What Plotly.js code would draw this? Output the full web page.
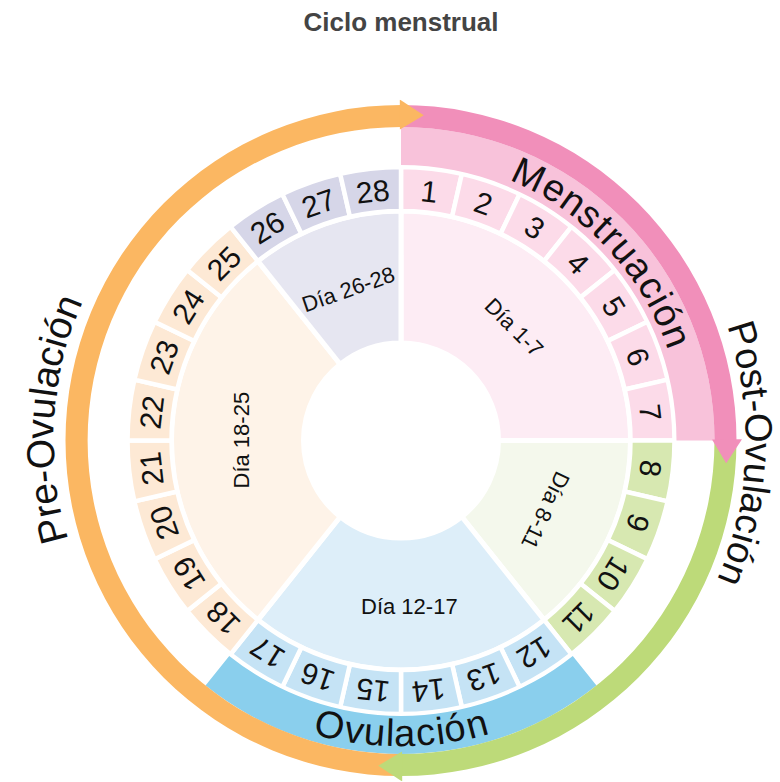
<!DOCTYPE html>
<html>
<head>
<meta charset="utf-8">
<script src="https://cdn.plot.ly/plotly-3.0.1.min.js"></script>
<style>html,body{margin:0;padding:0;background:#fff;}</style>
</head>
<body>
<div id="chart" style="width:780px;height:782px;"></div>
<script>
// ---------------- DATA ----------------
const chartTitle = 'Ciclo menstrual';
const cycleLength = 28;
const dayNumbers = [1,2,3,4,5,6,7,8,9,10,11,12,13,14,15,16,17,18,19,20,21,22,23,24,25,26,27,28];

const phaseLabels   = ['Día 1-7', 'Día 8-11', 'Día 12-17', 'Día 18-25', 'Día 26-28'];
const phaseFirstDay = [1, 8, 12, 18, 26];
const phaseLastDay  = [7, 11, 17, 25, 28];

const bandLabels   = ['Menstruación', 'Ovulación'];
const bandFirstDay = [1, 12];
const bandLastDay  = [7, 17];

const arcLabels   = ['', 'Post-Ovulación', 'Pre-Ovulación'];
const arcFirstDay = [1, 8, 15];
const arcLastDay  = [7, 14, 28];

// ---------------- STYLE ----------------
const W = 780, H = 782;
const CX = 401, CY = 440.5, R = 341;
const wedgeColors  = ['#fdecf4', '#f4f8ec', '#ddeef9', '#fef3e8', '#e6e6f1'];
const dayBoxColors = ['#fcdbe9', '#d7e8b1', '#c5e3f5', '#fde9d5', '#d6d6e8'];
const bandColors   = ['#f8c2da', '#8acfed'];
const arcColors    = ['#f18fba', '#bdda79', '#fbb762'];
const FONT = 'Liberation Sans, Arial, sans-serif';
const TXT = '#111111';

const degPerDay = 360 / cycleLength;
const norm = a => { let v = ((a % 360) + 360) % 360; return v > 180 ? v - 360 : v; };
const toPaper = (r, th) => {
  const t = th * Math.PI / 180;
  return { x: (CX + r * Math.sin(t)) / W, y: 1 - (CY - r * Math.cos(t)) / H };
};
const spanCenter = (a, b) => ((a - 1) + b) / 2 * degPerDay;
const spanWidth = (a, b) => (b - a + 1) * degPerDay;
const phaseOfDay = d => phaseFirstDay.findIndex((f, i) => d >= f && d <= phaseLastDay[i]);

const traces = [];

// Inner wedges
traces.push({
  type: 'barpolar',
  theta: phaseFirstDay.map((f, i) => spanCenter(f, phaseLastDay[i])),
  width: phaseFirstDay.map((f, i) => spanWidth(f, phaseLastDay[i])),
  base: phaseFirstDay.map(() => 97.5),
  r: phaseFirstDay.map(() => 132),
  marker: { color: wedgeColors, line: { color: '#ffffff', width: 5 } },
  hoverinfo: 'skip', showlegend: false
});

// Day boxes
traces.push({
  type: 'barpolar',
  theta: dayNumbers.map(d => (d - 0.5) * degPerDay),
  width: dayNumbers.map(() => degPerDay),
  base: dayNumbers.map(() => 229.5),
  r: dayNumbers.map(() => 44),
  marker: { color: dayNumbers.map(d => dayBoxColors[phaseOfDay(d)]), line: { color: '#ffffff', width: 4.5 } },
  hoverinfo: 'skip', showlegend: false
});

// Phase bands (Menstruación / Ovulación)
traces.push({
  type: 'barpolar',
  theta: bandFirstDay.map((f, i) => spanCenter(f, bandLastDay[i])),
  width: bandFirstDay.map((f, i) => spanWidth(f, bandLastDay[i])),
  base: bandFirstDay.map(() => 275.5),
  r: bandFirstDay.map(() => 38),
  marker: { color: bandColors, line: { width: 0 } },
  hoverinfo: 'skip', showlegend: false
});

// Outer arcs
traces.push({
  type: 'barpolar',
  theta: arcFirstDay.map((f, i) => spanCenter(f, arcLastDay[i])),
  width: arcFirstDay.map((f, i) => spanWidth(f, arcLastDay[i])),
  base: arcFirstDay.map(() => 313.5),
  r: arcFirstDay.map(() => 22),
  marker: { color: arcColors, line: { width: 0 } },
  hoverinfo: 'skip', showlegend: false
});

// Arrowheads at the end of each arc
arcLastDay.forEach((e, i) => {
  const th = e * degPerDay;
  traces.push({
    type: 'scatterpolar',
    mode: 'lines',
    r: [311, 341, 326, 311],
    theta: [th - 0.2, th - 0.2, th + 4, th - 0.2],
    fill: 'toself',
    fillcolor: arcColors[i],
    line: { width: 0, color: arcColors[i] },
    cliponaxis: false,
    hoverinfo: 'skip', showlegend: false
  });
});

// ---------------- TEXT ----------------
const annotations = [];
const addText = (text, r, th, size, rot, extra) => {
  const p = toPaper(r, th);
  annotations.push(Object.assign({
    text: text, x: p.x, y: p.y, xref: 'paper', yref: 'paper',
    xanchor: 'center', yanchor: 'middle', showarrow: false,
    textangle: norm(rot), font: { family: FONT, size: size, color: TXT }
  }, extra || {}));
};

// Day numbers
dayNumbers.forEach(d => {
  const th = (d - 0.5) * degPerDay;
  addText(String(d), 251, th, 30, th);
});

// Wedge labels
const wedgeFlip = [false, false, true, false, false];
phaseLabels.forEach((lab, i) => {
  let th = spanCenter(phaseFirstDay[i], phaseLastDay[i]);
  const rot = wedgeFlip[i] ? th - 180 : th;
  if (wedgeFlip[i]) th -= 3;
  addText(lab, wedgeFlip[i] ? 166 : 160, th, 22, rot);
});

// Curved labels
const cv = document.createElement('canvas').getContext('2d');
function curved(text, thetaC, r, size, spacing, bottom) {
  cv.font = size + 'px "Liberation Sans"';
  const chars = [...text];
  const ws = chars.map(c => cv.measureText(c).width);
  const total = ws.reduce((a, b) => a + b, 0) + spacing * (chars.length - 1);
  let cum = -total / 2;
  chars.forEach((c, k) => {
    const s = cum + ws[k] / 2;
    cum += ws[k] + spacing;
    const dth = s / r * 180 / Math.PI;
    const th = bottom ? thetaC - dth : thetaC + dth;
    addText(c, r, th, size, bottom ? th - 180 : th, { borderpad: 0 });
  });
}
curved(bandLabels[0], 47, 295, 38, 2, false);
curved(bandLabels[1], 180, 293, 38, 0.5, true);
curved(arcLabels[1], 92.2, 358, 38, 0.8, false);
curved(arcLabels[2], 273.5, 361, 39, 0.5, false);

// ---------------- LAYOUT ----------------
const layout = {
  width: W, height: H,
  margin: { l: 0, r: 0, t: 0, b: 0 },
  paper_bgcolor: '#ffffff',
  plot_bgcolor: '#ffffff',
  showlegend: false,
  title: {
    text: '<b>' + chartTitle + '</b>',
    font: { family: FONT, size: 26, color: '#444444' },
    x: CX / W, xref: 'container', xanchor: 'center',
    y: 1 - 22 / H, yref: 'container', yanchor: 'middle'
  },
  polar: {
    domain: { x: [(CX - R) / W, (CX + R) / W], y: [(H - CY - R) / H, (H - CY + R) / H] },
    bgcolor: 'rgba(0,0,0,0)',
    barmode: 'overlay',
    hole: 0,
    radialaxis: { visible: false, range: [0, R], showgrid: false },
    angularaxis: { visible: false, rotation: 90, direction: 'clockwise', showgrid: false }
  },
  annotations: annotations
};

Plotly.newPlot('chart', traces, layout, { displayModeBar: false, staticPlot: true });
</script>
</body>
</html>
